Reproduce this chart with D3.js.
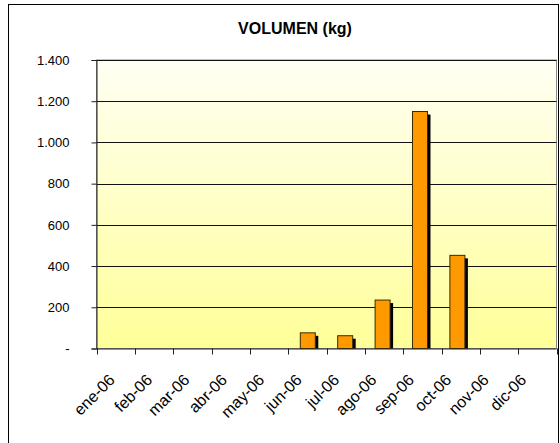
<!DOCTYPE html>
<html><head><meta charset="utf-8">
<script src="https://cdn.jsdelivr.net/npm/d3@7"></script>
<style>body{margin:0;background:#fff;}svg{display:block;font-family:"Liberation Sans",Arial,sans-serif;}</style>
</head><body>
<svg id="c" width="560" height="443"></svg>
<script>
const months = ["ene-06","feb-06","mar-06","abr-06","may-06","jun-06","jul-06","ago-06","sep-06","oct-06","nov-06","dic-06"];
const volumen = [0,0,0,0,0,76,62,235,1150,452,0,0];
const yTicks = [0,200,400,600,800,1000,1200,1400];
const yTickLabels = ["-","200","400","600","800","1.000","1.200","1.400"];

const svg = d3.select("#c");
const m = {left:96.5, right:556.5, top:60, bottom:348.5};

svg.append("rect").attr("x",8.5).attr("y",4.5).attr("width",550).attr("height",460)
  .attr("fill","#fff").attr("stroke","#000").attr("stroke-width",1);

svg.append("text").attr("x",295).attr("y",34).attr("text-anchor","middle")
  .attr("font-size",16).attr("font-weight","bold").text("VOLUMEN (kg)");

const defs = svg.append("defs");
const g = defs.append("linearGradient").attr("id","bg").attr("x1",0).attr("y1",0).attr("x2",0).attr("y2",1);
g.append("stop").attr("offset","0%").attr("stop-color","#FFFFF4");
g.append("stop").attr("offset","100%").attr("stop-color","#FFFF99");

const x = d3.scaleBand().domain(months).range([m.left,m.right]).padding(0.3);
const y = d3.scaleLinear().domain([0,1400]).range([m.bottom,m.top]);

svg.append("rect").attr("x",m.left).attr("y",m.top).attr("width",m.right-m.left).attr("height",m.bottom-m.top)
  .attr("fill","url(#bg)").attr("stroke","#888").attr("stroke-width",1);

// gridlines
svg.append("g").selectAll("line").data(yTicks.filter(d=>d>0)).join("line")
  .attr("x1",m.left).attr("x2",m.right)
  .attr("y1",d=>Math.round(y(d))+0.5).attr("y2",d=>Math.round(y(d))+0.5)
  .attr("stroke","#111").attr("stroke-width",1);

// y axis
const yAxis = d3.axisLeft(y).tickValues(yTicks).tickSize(5).tickPadding(22)
  .tickFormat((d,i)=>yTickLabels[i]);
const ya = svg.append("g").attr("transform",`translate(${m.left},0)`).call(yAxis);
ya.select(".domain").attr("stroke","#222");
ya.selectAll(".tick line").attr("stroke","#222");
ya.selectAll("text").attr("font-size",13).attr("fill","#000").attr("font-family","Liberation Sans, Arial, sans-serif");

// x axis with ticks at category boundaries
const xb = d3.scaleLinear().domain([0,12]).range([m.left,m.right]);
const xa = svg.append("g").attr("transform",`translate(0,${m.bottom})`);
xa.append("line").attr("x1",m.left).attr("x2",m.right).attr("y1",0.5).attr("y2",0.5).attr("stroke","#222");
xa.selectAll("line.t").data(d3.range(13)).join("line").attr("class","t")
  .attr("x1",d=>Math.round(xb(d))+0.5).attr("x2",d=>Math.round(xb(d))+0.5)
  .attr("y1",0).attr("y2",6).attr("stroke","#222");
xa.selectAll("text").data(months).join("text")
  .attr("transform",d=>`translate(${x(d)+x.bandwidth()/2-5},${32.5}) rotate(-45)`)
  .attr("text-anchor","end").attr("font-size",16).text(d=>d);

// bars
const bw = 15;
const bars = svg.append("g");
const data = months.map((mo,i)=>({mo, v:volumen[i]})).filter(d=>d.v>0);
bars.selectAll("rect.s").data(data).join("rect").attr("class","s")
  .attr("x",d=>x(d.mo)+x.bandwidth()/2-bw/2+3).attr("y",d=>y(d.v)+3)
  .attr("width",bw).attr("height",d=>m.bottom-y(d.v)-3).attr("fill","#000");
bars.selectAll("rect.b").data(data).join("rect").attr("class","b")
  .attr("x",d=>x(d.mo)+x.bandwidth()/2-bw/2).attr("y",d=>y(d.v))
  .attr("width",bw).attr("height",d=>m.bottom-y(d.v)).attr("fill","#FF9900")
  .attr("stroke","#3a2a00").attr("stroke-width",1);
</script>
</body></html>
